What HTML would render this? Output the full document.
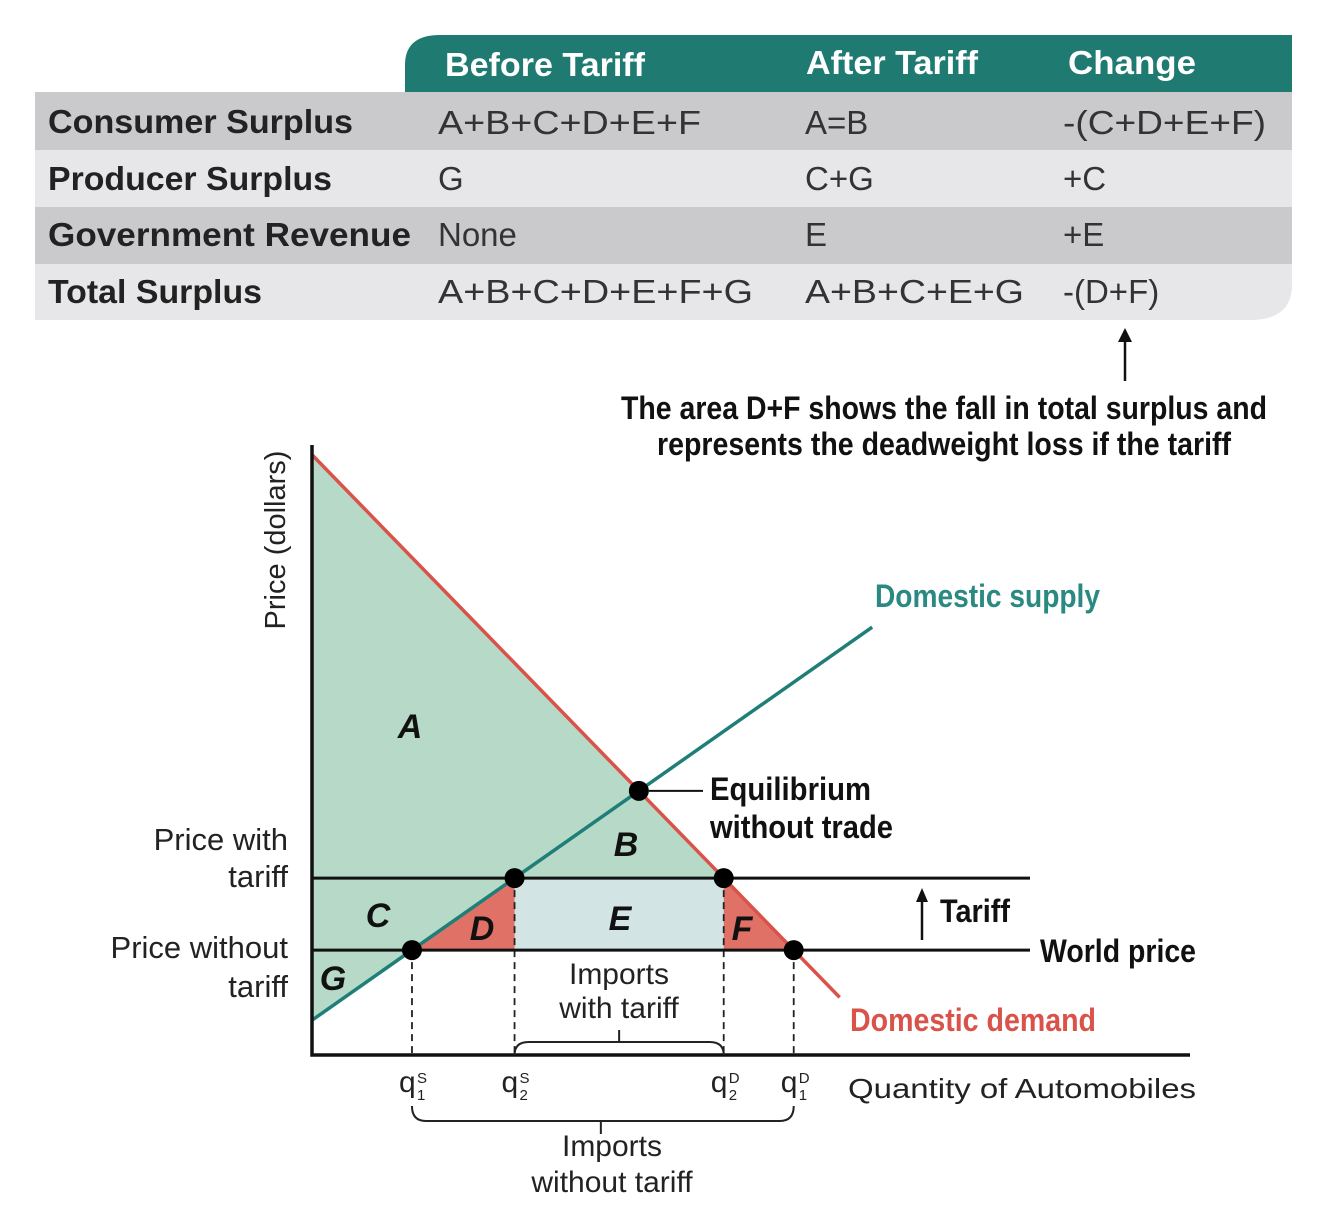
<!DOCTYPE html>
<html><head><meta charset="utf-8"><style>
body{margin:0;background:#fff}
svg{display:block}
.t{font-family:"Liberation Sans",sans-serif}
.b{font-family:"Liberation Sans",sans-serif;font-weight:bold}
</style></head><body>
<svg id="chart" width="1330" height="1214" viewBox="0 0 1330 1214" xmlns="http://www.w3.org/2000/svg">
<g>
<path d="M405 92 V65 Q405 35 440 35 H1292 V92 Z" fill="#1f7a71"/>
<rect x="35" y="92" width="1257" height="58" fill="#cacacd"/>
<rect x="35" y="150" width="1257" height="57" fill="#e7e7e9"/>
<rect x="35" y="207" width="1257" height="57" fill="#cacacd"/>
<path d="M35 264 H1292 V285 Q1292 320 1250 320 H35 Z" fill="#e7e7e9"/>
<g class="b" font-size="33" fill="#fff">
<text x="445" y="76" textLength="200" lengthAdjust="spacingAndGlyphs">Before Tariff</text>
<text x="806" y="74" textLength="172" lengthAdjust="spacingAndGlyphs">After Tariff</text>
<text x="1068" y="74" textLength="128" lengthAdjust="spacingAndGlyphs">Change</text>
</g>
<g class="b" font-size="33" fill="#222">
<text x="48" y="133" textLength="305" lengthAdjust="spacingAndGlyphs">Consumer Surplus</text>
<text x="48" y="190" textLength="284" lengthAdjust="spacingAndGlyphs">Producer Surplus</text>
<text x="48" y="246" textLength="363" lengthAdjust="spacingAndGlyphs">Government Revenue</text>
<text x="48" y="303" textLength="214" lengthAdjust="spacingAndGlyphs">Total Surplus</text>
</g>
<g class="t" font-size="33" fill="#333">
<text x="438" y="134" textLength="263" lengthAdjust="spacingAndGlyphs">A+B+C+D+E+F</text>
<text x="805" y="134">A=B</text>
<text x="1063" y="134" textLength="203" lengthAdjust="spacingAndGlyphs">-(C+D+E+F)</text>
<text x="438" y="190">G</text>
<text x="805" y="190">C+G</text>
<text x="1063" y="190">+C</text>
<text x="438" y="246">None</text>
<text x="805" y="246">E</text>
<text x="1063" y="246">+E</text>
<text x="438" y="303" textLength="315" lengthAdjust="spacingAndGlyphs">A+B+C+D+E+F+G</text>
<text x="805" y="303" textLength="219" lengthAdjust="spacingAndGlyphs">A+B+C+E+G</text>
<text x="1063" y="303">-(D+F)</text>
</g>
</g>
<g>
<line x1="1125" y1="381" x2="1125" y2="338" stroke="#111" stroke-width="2.5"/>
<path d="M1118 342 L1125 328 L1132 342 Z" fill="#111"/>
<g class="b" font-size="32" fill="#111" text-anchor="middle">
<text x="944" y="419" textLength="646" lengthAdjust="spacingAndGlyphs">The area D+F shows the fall in total surplus and</text>
<text x="944" y="455" textLength="574" lengthAdjust="spacingAndGlyphs">represents the deadweight loss if the tariff</text>
</g>
</g>
<g id="plot"></g>
</svg>
<script>
// model parameters (price units 0-100, quantity units 0-100)
const demandIntercept = [98.4];
const demandSlope = [1.48];
const supplyIntercept = [5.7];
const supplySlope = [1.01];
const worldPrice = [17.2];
const tariffPrice = [29.0];
const demandEndQ = [60.1];
const supplyEndQ = [63.8];

const NS = "http://www.w3.org/2000/svg";
const X0 = 312, X1 = 1190, Y0 = 1055, Y1 = 445;
const xs = q => X0 + q * (X1 - X0) / 100;
const ys = p => Y0 - p * (Y0 - Y1) / 100;
const g = document.getElementById('plot');
function mk(tag, attrs, parent) {
  const e = document.createElementNS(NS, tag);
  for (const k in attrs) e.setAttribute(k, attrs[k]);
  (parent || g).appendChild(e);
  return e;
}
const D = q => demandIntercept[0] - demandSlope[0] * q;
const S = q => supplyIntercept[0] + supplySlope[0] * q;
const qD = p => (demandIntercept[0] - p) / demandSlope[0];
const qS = p => (p - supplyIntercept[0]) / supplySlope[0];
const Pw = worldPrice[0], Pt = tariffPrice[0];
const q1S = qS(Pw), q2S = qS(Pt), q2D = qD(Pt), q1D = qD(Pw);
const qE = (demandIntercept[0] - supplyIntercept[0]) / (demandSlope[0] + supplySlope[0]);
const pE = D(qE);
const pt = (q, p) => xs(q) + ',' + ys(p);

let e;
e = mk('polygon', {points: [pt(0, D(0)), pt(q2D, Pt), pt(q2S, Pt), pt(0, S(0))].join(' '), fill: '#b7dac8'});


e = mk('rect', {x: xs(q2S), y: ys(Pt), width: xs(q2D) - xs(q2S), height: ys(Pw) - ys(Pt), fill: '#d2e4e4'});


e = mk('polygon', {points: [pt(q1S, Pw), pt(q2S, Pt), pt(q2S, Pw)].join(' '), fill: '#e07166'});


e = mk('polygon', {points: [pt(q2D, Pt), pt(q2D, Pw), pt(q1D, Pw)].join(' '), fill: '#e07166'});



[[q1S, Pw], [q2S, Pt], [q2D, Pt], [q1D, Pw]].forEach(([q, p]) => {
  e = mk('line', {x1: xs(q), y1: ys(p), x2: xs(q), y2: Y0, stroke: '#222', 'stroke-width': 1.8, 'stroke-dasharray': '7,5'});
  
  
});
e = mk('line', {x1: X0, y1: ys(Pt), x2: 1030, y2: ys(Pt), stroke: '#111', 'stroke-width': 3});


e = mk('line', {x1: X0, y1: ys(Pw), x2: 1030, y2: ys(Pw), stroke: '#111', 'stroke-width': 3});


e = mk('line', {x1: xs(0), y1: ys(D(0)), x2: xs(demandEndQ[0]), y2: ys(D(demandEndQ[0])), stroke: '#d9534a', 'stroke-width': 3.5});


e = mk('line', {x1: xs(0), y1: ys(S(0)), x2: xs(supplyEndQ[0]), y2: ys(S(supplyEndQ[0])), stroke: '#1f7f78', 'stroke-width': 3.5});


e = mk('path', {d: `M${X0} ${Y1} V${Y0} H${X1}`, fill: 'none', stroke: '#111', 'stroke-width': 3.5});


[[qE, pE], [q2S, Pt], [q2D, Pt], [q1S, Pw], [q1D, Pw]].forEach(([q, p]) => {
  e = mk('circle', {cx: xs(q), cy: ys(p), r: 10, fill: '#000'});
  
  
});
e = mk('line', {x1: xs(qE) + 10, y1: ys(pE), x2: 703, y2: ys(pE), stroke: '#111', 'stroke-width': 2});


e = mk('line', {x1: 922, y1: 940, x2: 922, y2: 898, stroke: '#111', 'stroke-width': 2.5});


mk('path', {d: 'M916 902 L922 888 L928 902 Z', fill: '#111'});
e = mk('path', {d: `M${xs(q2S)} 1055 Q${xs(q2S)} 1042 ${xs(q2S) + 14} 1042 H${xs(q2D) - 14} Q${xs(q2D)} 1042 ${xs(q2D)} 1055 M${(xs(q2S) + xs(q2D)) / 2} 1042 V1030`, fill: 'none', stroke: '#222', 'stroke-width': 2});


e = mk('path', {d: `M${xs(q1S)} 1106 Q${xs(q1S)} 1121 ${xs(q1S) + 14} 1121 H${xs(q1D) - 14} Q${xs(q1D)} 1121 ${xs(q1D)} 1106 M${(xs(q1S) + xs(q1D)) / 2 - 2} 1121 V1134`, fill: 'none', stroke: '#222', 'stroke-width': 2});



function txt(s, x, y, o) {
  const t = mk('text', Object.assign({x: x, y: y}, o));
  t.textContent = s;
  return t;
}
const reg = {'class': 't', fill: '#222', 'font-size': 30};
const letters = [['A', 410, 738], ['B', 626, 856], ['C', 378, 927], ['D', 482, 940], ['E', 620, 930], ['F', 742, 940], ['G', 333, 990]];
letters.forEach(([s, x, y]) => {
  e = txt(s, x, y, {'class': 'b', 'font-style': 'italic', 'font-size': 34, fill: '#111', 'text-anchor': 'middle'});
  
  
});
e = txt('Price (dollars)', 0, 0, Object.assign({}, reg, {'text-anchor': 'middle', transform: 'translate(285,540) rotate(-90)', 'font-size': 29}));


e = txt('Quantity of Automobiles', 848, 1098, Object.assign({}, reg, {'font-size': 28, textLength: 348, lengthAdjust: 'spacingAndGlyphs'}));


[['Price with', 850], ['tariff', 887], ['Price without', 958], ['tariff', 997]].forEach(([s, y]) => {
  e = txt(s, 288, y, Object.assign({}, reg, {'text-anchor': 'end', 'font-size': 31}));
  
  
});
const qLabels = [['q', 'S', '1', q1S], ['q', 'S', '2', q2S], ['q', 'D', '2', q2D], ['q', 'D', '1', q1D]];
qLabels.forEach(([b, sup, sub, q]) => {
  const x = xs(q) - 13;
  e = txt(b, x, 1092, Object.assign({}, reg, {'font-size': 30}));
  
  
  txt(sup, x + 18, 1083, Object.assign({}, reg, {'font-size': 15}));
  txt(sub, x + 18, 1100, Object.assign({}, reg, {'font-size': 15}));
});
txt('Imports', 619, 984, Object.assign({}, reg, {'text-anchor': 'middle'}));
txt('with tariff', 619, 1018, Object.assign({}, reg, {'text-anchor': 'middle'}));
txt('Imports', 612, 1156, Object.assign({}, reg, {'text-anchor': 'middle'}));
txt('without tariff', 612, 1192, Object.assign({}, reg, {'text-anchor': 'middle'}));
e = txt('Domestic supply', 875, 607, {'class': 'b', 'font-size': 32, fill: '#2a8a82', textLength: 225, lengthAdjust: 'spacingAndGlyphs'});


e = txt('Domestic demand', 850, 1031, {'class': 'b', 'font-size': 32, fill: '#d9534a', textLength: 246, lengthAdjust: 'spacingAndGlyphs'});


const bl = {'class': 'b', 'font-size': 32, fill: '#111', lengthAdjust: 'spacingAndGlyphs'};
e = txt('Equilibrium', 710, 800, Object.assign({textLength: 161}, bl));


txt('without trade', 710, 838, Object.assign({textLength: 183}, bl));
e = txt('Tariff', 940, 922, Object.assign({textLength: 70}, bl));


e = txt('World price', 1040, 962, Object.assign({textLength: 156}, bl));


</script>
</body></html>
